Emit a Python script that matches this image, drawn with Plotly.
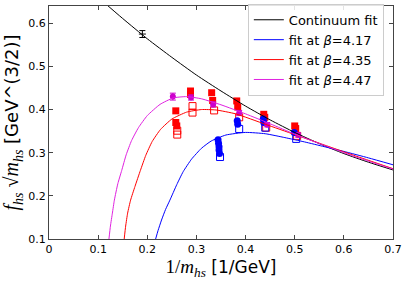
import plotly.graph_objects as go

# ---- fit curves ----
cont_x = [0.10, 0.15, 0.20, 0.25, 0.30, 0.35, 0.40, 0.45, 0.50, 0.55, 0.60, 0.65, 0.70]
cont_y = [0.660, 0.611, 0.564, 0.521, 0.480, 0.443, 0.408, 0.376, 0.347, 0.321, 0.298, 0.278, 0.260]

b417_x = [0.217, 0.222, 0.229, 0.237, 0.246, 0.26, 0.273, 0.29, 0.31, 0.33, 0.36, 0.40, 0.44, 0.48, 0.52, 0.56, 0.60, 0.65, 0.70]
b417_y = [0.10, 0.12, 0.144, 0.168, 0.19, 0.226, 0.256, 0.285, 0.310, 0.327, 0.341, 0.347, 0.344, 0.335, 0.325, 0.314, 0.303, 0.288, 0.272]

b435_x = [0.153, 0.156, 0.160, 0.166, 0.175, 0.186, 0.197, 0.210, 0.227, 0.25, 0.28, 0.31, 0.34, 0.38, 0.44, 0.50, 0.56, 0.62, 0.70]
b435_y = [0.10, 0.13, 0.16, 0.19, 0.222, 0.259, 0.294, 0.326, 0.354, 0.378, 0.394, 0.400, 0.399, 0.390, 0.366, 0.342, 0.318, 0.294, 0.263]

b447_x = [0.122, 0.125, 0.129, 0.133, 0.140, 0.148, 0.157, 0.168, 0.182, 0.20, 0.226, 0.253, 0.28, 0.31, 0.35, 0.40, 0.45, 0.50, 0.56, 0.62, 0.70]
b447_y = [0.10, 0.13, 0.16, 0.19, 0.228, 0.259, 0.295, 0.328, 0.358, 0.386, 0.412, 0.427, 0.430, 0.425, 0.411, 0.390, 0.367, 0.343, 0.317, 0.292, 0.262]

# ---- data points ----
red_fill_x = [0.258, 0.258, 0.260, 0.288, 0.288, 0.331, 0.333, 0.382, 0.384, 0.437, 0.439, 0.500, 0.502]
red_fill_y = [0.397, 0.370, 0.362, 0.443, 0.435, 0.439, 0.421, 0.420, 0.406, 0.389, 0.382, 0.362, 0.356]
red_open_x = [0.261, 0.261, 0.292, 0.292, 0.336, 0.387, 0.442, 0.505]
red_open_y = [0.351, 0.342, 0.408, 0.393, 0.398, 0.382, 0.358, 0.339]

blue_fill_x = [0.344, 0.345, 0.346, 0.346, 0.347, 0.383, 0.384, 0.436, 0.437, 0.499]
blue_fill_y = [0.330, 0.322, 0.314, 0.306, 0.298, 0.374, 0.366, 0.378, 0.370, 0.347]
blue_open_x = [0.348, 0.387, 0.440, 0.503]
blue_open_y = [0.290, 0.355, 0.358, 0.332]

mag_x = [0.252, 0.289, 0.334, 0.387, 0.444, 0.507]
mag_y = [0.430, 0.428, 0.412, 0.392, 0.365, 0.341]
mag_err = [0.008, 0.006, 0.006, 0.006, 0.005, 0.005]

cpt_x = [0.19]
cpt_y = [0.575]
cpt_err = [0.008]

x_ticks = [0, 0.1, 0.2, 0.3, 0.4, 0.5, 0.6, 0.7]
x_labels = ["0", "0.1", "0.2", "0.3", "0.4", "0.5", "0.6", "0.7"]
y_ticks = [0.1, 0.2, 0.3, 0.4, 0.5, 0.6]
y_labels = ["0.1", "0.2", "0.3", "0.4", "0.5", "0.6"]

fig = go.Figure()

# data markers (no legend)
fig.add_trace(go.Scatter(x=red_open_x, y=red_open_y, mode="markers", showlegend=False,
                         marker=dict(symbol="square-open", size=7, color="red", line=dict(width=1))))
fig.add_trace(go.Scatter(x=blue_open_x, y=blue_open_y, mode="markers", showlegend=False,
                         marker=dict(symbol="square-open", size=7, color="blue", line=dict(width=1))))
fig.add_trace(go.Scatter(x=red_fill_x, y=red_fill_y, mode="markers", showlegend=False,
                         marker=dict(symbol="square", size=7, color="red")))
fig.add_trace(go.Scatter(x=blue_fill_x, y=blue_fill_y, mode="markers", showlegend=False,
                         marker=dict(symbol="circle", size=7, color="blue")))
fig.add_trace(go.Scatter(x=mag_x, y=mag_y, mode="markers", showlegend=False,
                         error_y=dict(type="data", array=mag_err, color="#cc00cc", thickness=1, width=3),
                         marker=dict(symbol="circle", size=6, color="#cc00cc")))
fig.add_trace(go.Scatter(x=cpt_x, y=cpt_y, mode="markers", showlegend=False,
                         error_y=dict(type="data", array=cpt_err, color="black", thickness=1, width=3),
                         marker=dict(symbol="line-ew", size=5, color="black", line=dict(width=1, color="black"))))

# fit curves
fig.add_trace(go.Scatter(x=cont_x, y=cont_y, mode="lines", name="Continuum fit",
                         line=dict(color="black", width=1, shape="spline", smoothing=0.6)))
fig.add_trace(go.Scatter(x=b417_x, y=b417_y, mode="lines", name="fit at <i>β</i>=4.17",
                         line=dict(color="blue", width=1, shape="spline", smoothing=0.5)))
fig.add_trace(go.Scatter(x=b435_x, y=b435_y, mode="lines", name="fit at <i>β</i>=4.35",
                         line=dict(color="red", width=1, shape="spline", smoothing=0.5)))
fig.add_trace(go.Scatter(x=b447_x, y=b447_y, mode="lines", name="fit at <i>β</i>=4.47",
                         line=dict(color="#e020e0", width=1, shape="spline", smoothing=0.5)))

axis_common = dict(showline=True, mirror="ticks", linecolor="#444", linewidth=1,
                   ticks="inside", ticklen=4, tickcolor="#444", showgrid=False, zeroline=False,
                   automargin=False,
                   tickfont=dict(family="DejaVu Sans", size=11, color="black"))

fig.update_layout(
    width=407, height=285,
    margin=dict(l=49, r=14, t=5, b=46),
    paper_bgcolor="white", plot_bgcolor="white",
    font=dict(family="DejaVu Sans", color="black"),
    xaxis=dict(range=[0, 0.7], tickvals=x_ticks, ticktext=x_labels,
               title=dict(text="<span style='font-family:Liberation Serif;font-size:19px'>1/<i>m</i><sub><i>hs</i></sub></span> [1/GeV]",
                          font=dict(size=17), standoff=5),
               **axis_common),
    yaxis=dict(range=[0.1, 0.64], tickvals=y_ticks, ticktext=y_labels,
               title=dict(text="<span style='font-family:Liberation Serif;font-size:20px'><i>f</i><sub><i>hs</i></sub> √<i>m</i><sub><i>hs</i></sub></span> [GeV^(3/2)]",
                          font=dict(size=18), standoff=4),
               **axis_common),
    legend=dict(x=0.578, y=1.005, xanchor="left", yanchor="top",
                bgcolor="rgba(255,255,255,0.85)", bordercolor="#cccccc", borderwidth=1,
                font=dict(family="DejaVu Sans", size=13), tracegroupgap=0, itemwidth=30),
)

fig.write_html("out.html", config={"displayModeBar": False},
               post_script="document.body.style.margin='0';document.body.style.overflow='hidden';")
